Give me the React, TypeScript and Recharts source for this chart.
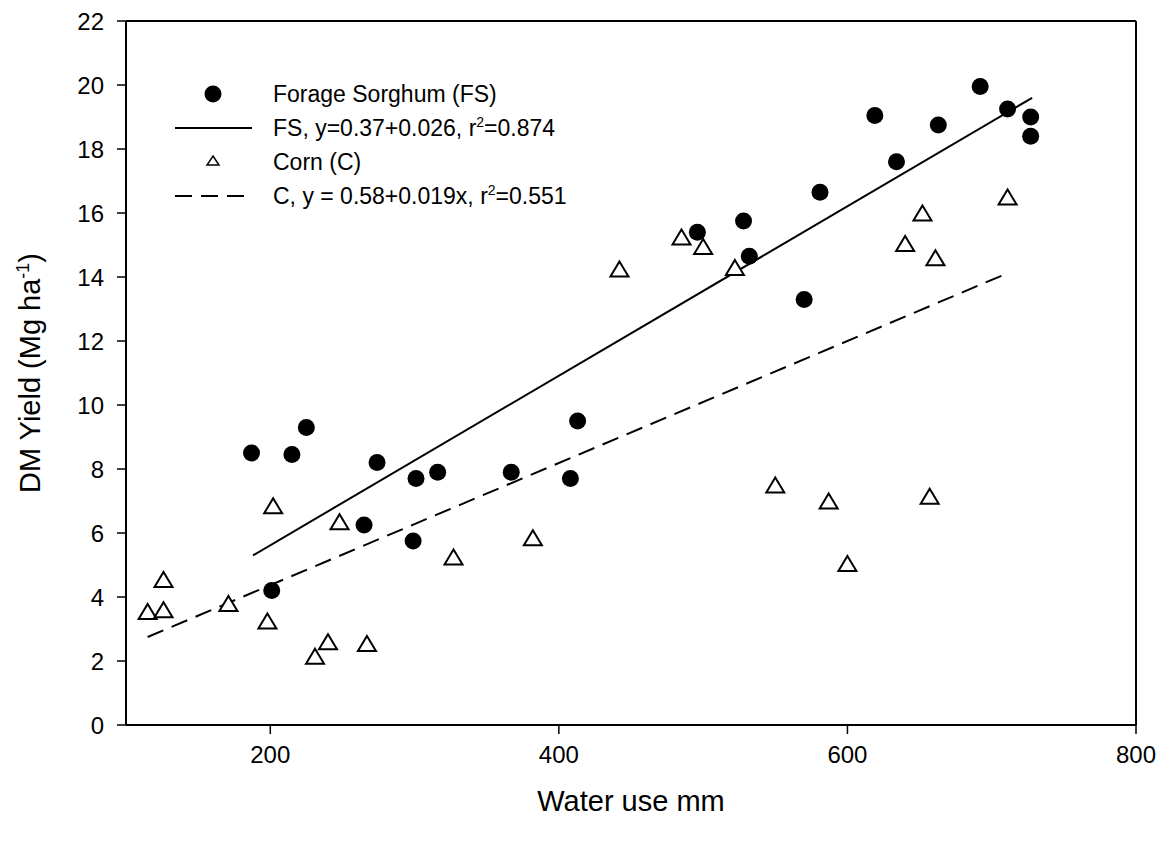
import React from "react";
import { Legend, ReferenceLine, Scatter, ScatterChart, XAxis, YAxis } from "recharts";

// forage sorghum observations (water use mm, DM yield Mg/ha)
const fsWater = [187, 201, 215, 225, 265, 274, 299, 301, 316, 367, 408, 413, 496, 528, 532, 570, 581, 619, 634, 663, 692, 711, 727, 727];
const fsYield = [8.5, 4.2, 8.45, 9.3, 6.25, 8.2, 5.75, 7.7, 7.9, 7.9, 7.7, 9.5, 15.4, 15.75, 14.65, 13.3, 16.65, 19.05, 17.6, 18.75, 19.95, 19.25, 19.0, 18.4];

// corn observations
const cornWater = [115, 126, 126, 171, 198, 202, 231, 240, 248, 267, 327, 382, 442, 485, 500, 522, 550, 587, 600, 640, 652, 657, 661, 711];
const cornYield = [3.55, 4.55, 3.6, 3.8, 3.25, 6.85, 2.15, 2.6, 6.35, 2.55, 5.25, 5.85, 14.25, 15.25, 14.95, 14.3, 7.5, 7.0, 5.05, 15.05, 16.0, 7.15, 14.6, 16.5];

// regression line end points
const fsFitWater = [188, 728];
const fsFitYield = [5.3, 19.6];
const cornFitWater = [115, 710];
const cornFitYield = [2.75, 14.1];

const xTicks = [200, 400, 600, 800];
const yTicks = [0, 2, 4, 6, 8, 10, 12, 14, 16, 18, 20, 22];

const FONT = "Arial, 'Liberation Sans', sans-serif";

const zip = (xs: number[], ys: number[]) => xs.map((x, i) => ({ x, y: ys[i] }));

const fsData = zip(fsWater, fsYield);
const cornData = zip(cornWater, cornYield);
const fsFit = zip(fsFitWater, fsFitYield);
const cornFit = zip(cornFitWater, cornFitYield);

function Dot({ cx, cy }: any) {
  return <circle cx={cx} cy={cy} r={8.5} fill="#000" />;
}

function Tri({ cx, cy }: any) {
  return (
    <polygon
      points={`${cx},${cy - 7.5} ${cx + 9},${cy + 7.5} ${cx - 9},${cy + 7.5}`}
      fill="#fff"
      stroke="#000"
      strokeWidth={2}
      strokeLinejoin="miter"
    />
  );
}

const Nothing = () => <g />;

function YTitle({ viewBox }: any) {
  const cy = viewBox.y + viewBox.height / 2;
  return (
    <text
      transform={`translate(${viewBox.x + 40}, ${cy}) rotate(-90)`}
      textAnchor="middle"
      fontFamily={FONT}
      fontSize={29}
      fill="#000"
    >
      DM Yield (Mg ha
      <tspan dy={-11} fontSize={18}>-1</tspan>
      <tspan dy={11}>)</tspan>
    </text>
  );
}

function XTitle({ viewBox }: any) {
  return (
    <text
      x={viewBox.x + viewBox.width / 2}
      y={viewBox.y + 86}
      textAnchor="middle"
      fontFamily={FONT}
      fontSize={29}
      fill="#000"
    >
      Water use mm
    </text>
  );
}

const legendRows = [
  { kind: "dot", text: "Forage Sorghum (FS)", sup: "", tail: "" },
  { kind: "solid", text: "FS, y=0.37+0.026, r", sup: "2", tail: "=0.874" },
  { kind: "tri", text: "Corn (C)", sup: "", tail: "" },
  { kind: "dash", text: "C, y = 0.58+0.019x, r", sup: "2", tail: "=0.551" },
];

function LegendBox() {
  return (
    <div style={{ fontFamily: FONT, fontSize: 23, color: "#000" }}>
      {legendRows.map((r) => (
        <div key={r.text} style={{ display: "flex", alignItems: "center", height: 34 }}>
          <svg width={98} height={30} style={{ flex: "none" }}>
            {r.kind === "dot" && <circle cx={38} cy={15} r={8.5} fill="#000" />}
            {r.kind === "tri" && (
              <polygon points="38,9 44,18 32,18" fill="#fff" stroke="#000" strokeWidth={1.5} />
            )}
            {r.kind === "solid" && <line x1={0} x2={77} y1={15} y2={15} stroke="#000" strokeWidth={2} />}
            {r.kind === "dash" && (
              <line x1={0} x2={77} y1={15} y2={15} stroke="#000" strokeWidth={2} strokeDasharray="17 9" />
            )}
          </svg>
          <span style={{ whiteSpace: "nowrap" }}>
            {r.text}
            {r.sup && <sup style={{ fontSize: 14 }}>{r.sup}</sup>}
            {r.tail}
          </span>
        </div>
      ))}
    </div>
  );
}

export default function App() {
  return (
    <div style={{ position: "absolute", left: 0, top: 0, width: 1167, height: 845, background: "#fff" }}>
      <ScatterChart width={1167} height={845} margin={{ top: 21, right: 31, left: 0, bottom: 0 }}>
        <XAxis
          type="number"
          dataKey="x"
          domain={[100, 800]}
          ticks={xTicks}
          allowDataOverflow
          height={120}
          axisLine={{ stroke: "#000", strokeWidth: 2 }}
          tickLine={{ stroke: "#000", strokeWidth: 1.5 }}
          tickSize={9}
          tickMargin={12}
          tick={{ fill: "#000", fontSize: 24, fontFamily: FONT }}
          label={<XTitle />}
        />
        <YAxis
          type="number"
          dataKey="y"
          domain={[0, 22]}
          ticks={yTicks}
          allowDataOverflow
          width={126}
          axisLine={{ stroke: "#000", strokeWidth: 2 }}
          tickLine={{ stroke: "#000", strokeWidth: 1.5 }}
          tickSize={9}
          tickMargin={13}
          tick={{ fill: "#000", fontSize: 24, fontFamily: FONT }}
          label={<YTitle />}
        />
        <ReferenceLine y={22} stroke="#000" strokeWidth={2} />
        <ReferenceLine x={800} stroke="#000" strokeWidth={2} />
        <Legend
          layout="horizontal"
          verticalAlign="middle"
          align="center"
          content={<LegendBox />}
          wrapperStyle={{ left: 175, top: 77, width: 520 }}
        />
        <Scatter
          name="FS fit"
          data={fsFit}
          line={{ stroke: "#000", strokeWidth: 2 }}
          shape={<Nothing />}
          isAnimationActive={false}
        />
        <Scatter
          name="C fit"
          data={cornFit}
          line={{ stroke: "#000", strokeWidth: 2, strokeDasharray: "17 9" }}
          shape={<Nothing />}
          isAnimationActive={false}
        />
        <Scatter name="Forage Sorghum (FS)" data={fsData} shape={<Dot />} isAnimationActive={false} />
        <Scatter name="Corn (C)" data={cornData} shape={<Tri />} isAnimationActive={false} />
      </ScatterChart>
    </div>
  );
}
